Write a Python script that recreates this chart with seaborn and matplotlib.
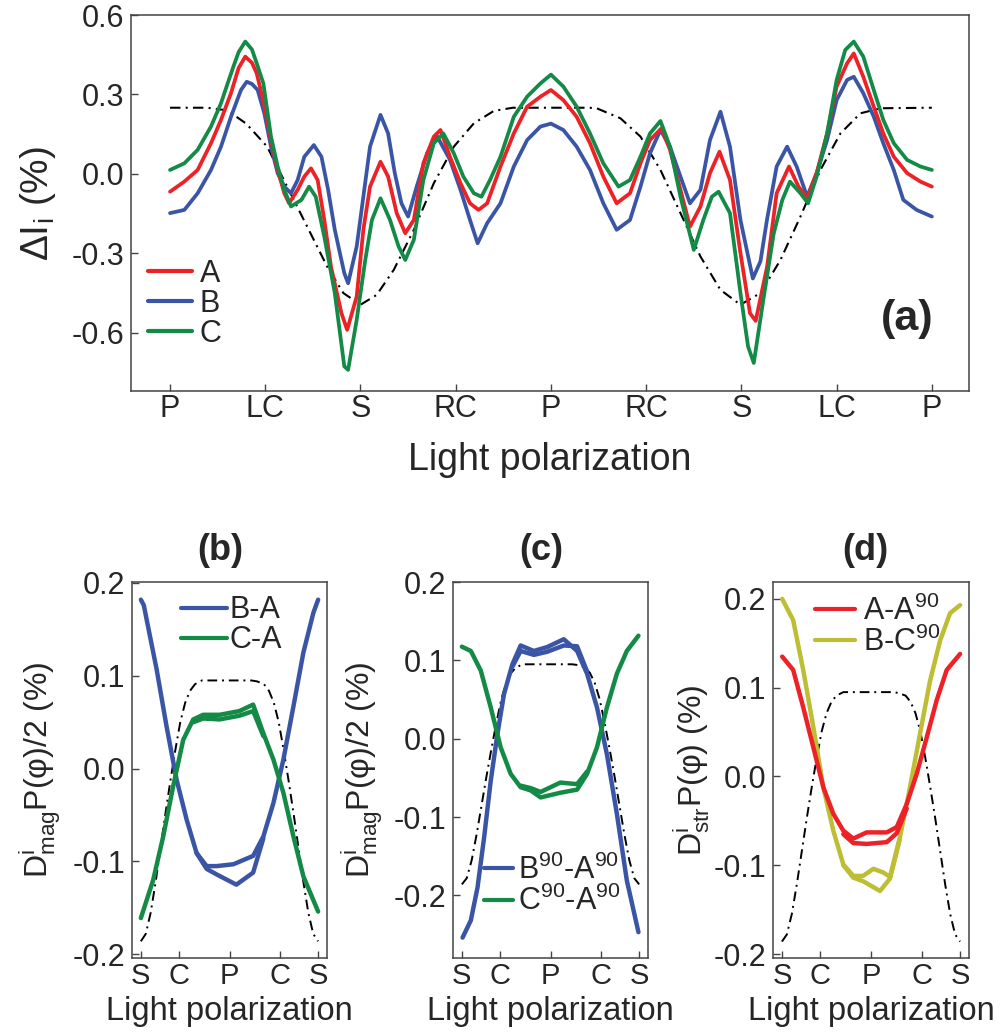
import numpy as np
import pandas as pd
import matplotlib
matplotlib.use("Agg")
import matplotlib.pyplot as plt
from matplotlib.lines import Line2D
import seaborn as sns

# ---------------- data: panel (a) ----------------
a_xticks = [0, 1, 2, 3, 4, 5, 6, 7, 8]
a_xlabels = ["P", "LC", "S", "RC", "P", "RC", "S", "LC", "P"]
a_yticks = [-0.6, -0.3, 0.0, 0.3, 0.6]
a_ylabels = ["-0.6", "-0.3", "0.0", "0.3", "0.6"]

a_B_x = [0, 0.15, 0.29, 0.43, 0.535, 0.64, 0.745, 0.805, 0.86, 0.92, 0.99, 1.06, 1.13, 1.2, 1.27, 1.34, 1.41,
         1.51, 1.59, 1.66, 1.73, 1.83, 1.87, 1.96, 2.03, 2.1, 2.21, 2.29, 2.36, 2.43, 2.5, 2.59, 2.7,
         2.8, 2.94, 3.05, 3.15, 3.23, 3.33, 3.47, 3.61, 3.75, 3.89, 4.0, 4.13, 4.27, 4.41, 4.55, 4.69,
         4.83, 4.94, 5.04, 5.15, 5.25, 5.36, 5.46, 5.57, 5.67, 5.78, 5.88, 5.99, 6.12, 6.2, 6.27, 6.37,
         6.48, 6.58, 6.69, 6.79, 6.9, 7.0, 7.11, 7.18, 7.28, 7.39, 7.49, 7.6, 7.7, 7.84, 8.0]
a_B_y = [-0.148, -0.136, -0.073, 0.015, 0.103, 0.216, 0.317, 0.348, 0.34, 0.317, 0.229, 0.103, 0.003, -0.048,
         -0.073, -0.023, 0.065, 0.109, 0.065, -0.06, -0.211, -0.375, -0.413, -0.274, -0.086, 0.103, 0.223,
         0.153, 0.003, -0.111, -0.161, -0.048, 0.078, 0.145, 0.053, -0.06, -0.174, -0.262, -0.186, -0.111,
         0.028, 0.128, 0.179, 0.19, 0.166, 0.103, 0.015, -0.111, -0.211, -0.174, -0.048, 0.078, 0.166,
         0.103, -0.010, -0.111, -0.06, 0.128, 0.235, 0.103, -0.174, -0.395, -0.33, -0.17, 0.028, 0.103,
         0.028, -0.086, 0.003, 0.128, 0.279, 0.355, 0.367, 0.305, 0.216, 0.116, 0.015, -0.098, -0.136, -0.161]

a_A_x = [0, 0.15, 0.29, 0.43, 0.535, 0.64, 0.72, 0.79, 0.86, 0.91, 0.99, 1.06, 1.13, 1.2, 1.25, 1.34, 1.41, 1.48,
         1.55, 1.62, 1.69, 1.8, 1.86, 1.96, 2.03, 2.1, 2.21, 2.29, 2.38, 2.47, 2.56, 2.66, 2.77, 2.84,
         2.94, 3.05, 3.15, 3.24, 3.33, 3.47, 3.61, 3.75, 3.89, 4.0, 4.13, 4.27, 4.41, 4.55, 4.69, 4.83,
         4.94, 5.04, 5.16, 5.25, 5.36, 5.46, 5.57, 5.67, 5.77, 5.88, 5.99, 6.09, 6.15, 6.27, 6.37, 6.5,
         6.6, 6.69, 6.79, 6.9, 7.0, 7.11, 7.18, 7.28, 7.39, 7.49, 7.6, 7.74, 7.88, 8.0]
a_A_y = [-0.067, -0.029, 0.015, 0.116, 0.204, 0.305, 0.40, 0.443, 0.42, 0.38, 0.26, 0.128, 0.015, -0.073, -0.111,
         -0.06, -0.01, 0.021, -0.023, -0.174, -0.35, -0.526, -0.589, -0.463, -0.211, -0.048, 0.046, -0.01,
         -0.148, -0.224, -0.174, 0.04, 0.141, 0.166, 0.065, -0.035, -0.111, -0.136, -0.111, 0.028, 0.153,
         0.254, 0.292, 0.317, 0.279, 0.216, 0.116, -0.01, -0.111, -0.073, 0.04, 0.128, 0.172, 0.091, -0.06,
         -0.199, -0.123, 0.003, 0.084, -0.023, -0.299, -0.526, -0.555, -0.35, -0.073, 0.028, -0.048,
         -0.092, 0.003, 0.153, 0.33, 0.418, 0.455, 0.367, 0.254, 0.153, 0.065, 0.003, -0.029, -0.048]

a_C_x = [0, 0.15, 0.29, 0.43, 0.535, 0.605, 0.665, 0.72, 0.79, 0.86, 0.91, 0.98, 1.06, 1.13, 1.2, 1.27, 1.38, 1.46,
         1.53, 1.62, 1.73, 1.83, 1.87, 1.96, 2.05, 2.12, 2.21, 2.31, 2.4, 2.47, 2.56, 2.66, 2.77, 2.87,
         2.98, 3.08, 3.19, 3.27, 3.36, 3.47, 3.61, 3.75, 3.89, 4.0, 4.13, 4.27, 4.41, 4.55, 4.71, 4.83,
         4.94, 5.04, 5.15, 5.25, 5.36, 5.5, 5.6, 5.69, 5.76, 5.88, 5.99, 6.07, 6.13, 6.23, 6.34, 6.43,
         6.51, 6.62, 6.7, 6.79, 6.9, 7.0, 7.09, 7.18, 7.28, 7.39, 7.49, 7.6, 7.74, 7.88, 8.0]
a_C_y = [0.015, 0.04, 0.091, 0.179, 0.267, 0.342, 0.405, 0.46, 0.5, 0.47, 0.418, 0.342, 0.141, 0.028, -0.06, -0.123,
         -0.098, -0.048, -0.086, -0.237, -0.45, -0.727, -0.74, -0.551, -0.325, -0.174, -0.092, -0.174,
         -0.274, -0.325, -0.249, -0.023, 0.116, 0.153, 0.078, -0.01, -0.073, -0.086, -0.023, 0.065, 0.216,
         0.292, 0.342, 0.375, 0.33, 0.254, 0.153, 0.04, -0.048, -0.023, 0.065, 0.153, 0.2, 0.103, -0.086,
         -0.287, -0.174, -0.086, -0.067, -0.148, -0.45, -0.652, -0.714, -0.476, -0.224, -0.098, -0.029,
         -0.073, -0.111, -0.01, 0.153, 0.355, 0.468, 0.5, 0.443, 0.317, 0.204, 0.116, 0.053, 0.028, 0.015]

a_T_x = [0, 0.39, 0.6, 0.8, 1.02, 1.23, 1.44, 1.65, 1.82, 2.0, 2.17, 2.35, 2.56, 2.77, 2.98, 3.19, 3.4,
         3.6, 4.4, 4.48, 4.73, 4.94, 5.15, 5.36, 5.57, 5.78, 5.99, 6.2, 6.41, 6.62, 6.83, 7.04, 7.25,
         7.46, 8.0]
a_T_y = [0.25, 0.25, 0.24, 0.19, 0.103, -0.048, -0.199, -0.35, -0.45, -0.494, -0.457, -0.362, -0.211,
         -0.035, 0.103, 0.191, 0.238, 0.25, 0.25, 0.248, 0.21, 0.141, 0.015, -0.148, -0.312, -0.438,
         -0.494, -0.45, -0.325, -0.161, 0.015, 0.153, 0.229, 0.248, 0.25]

# ---------------- data: panels (b)-(d) ----------------
bot_xticks = [-90, -51.5, 0, 51.5, 90]
bot_xlabels = ["S", "C", "P", "C", "S"]
bot_yticks = [-0.2, -0.1, 0.0, 0.1, 0.2]
bot_ylabels = ["-0.2", "-0.1", "0.0", "0.1", "0.2"]

theory_x = [-90, -85, -80, -75, -70, -65, -60, -55, -50, -45, -40, -35, -28, 22, 28, 35, 40, 45, 50,
            55, 60, 65, 70, 75, 80, 85, 90]
theory_y = [-0.186, -0.178, -0.155, -0.122, -0.085, -0.048, -0.013, 0.02, 0.05, 0.071, 0.084, 0.091,
            0.095, 0.095, 0.094, 0.091, 0.084, 0.071, 0.05, 0.02, -0.013, -0.048, -0.085, -0.122, -0.155,
            -0.178, -0.186]

b_BA_x = [-90, -87, -84.2, -74, -64, -53.7, -43.5, -33.4, -23.2, -13, 4, 24, 34.4, 44.6, 54.7, 64.9, 75, 85.2, 90]
b_BA_y = [0.182, 0.176, 0.161, 0.107, 0.046, -0.012, -0.055, -0.091, -0.105, -0.105, -0.103, -0.094, -0.073,
          -0.037, 0.0097, 0.067, 0.125, 0.168, 0.182]
b_BA2_x = [-33.4, -23.2, -13, 7, 24, 34.4]
b_BA2_y = [-0.091, -0.108, -0.114, -0.125, -0.112, -0.075]
b_CA_x = [-90, -77.5, -67.3, -57.2, -47, -36.8, -26.7, -10, 10, 24, 34.4, 44.6, 54.7, 64.9, 75, 90]
b_CA_y = [-0.161, -0.12, -0.073, -0.019, 0.031, 0.053, 0.058, 0.058, 0.062, 0.069, 0.038, 0.0097,
          -0.026, -0.073, -0.116, -0.154]
b_CA2_x = [-36.8, -26.7, -10, 10, 24, 34.4]
b_CA2_y = [0.05, 0.054, 0.053, 0.057, 0.062, 0.035]

c_BA_x = [-89.3, -80.9, -74.1, -67.4, -60.7, -53.9, -47.2, -38.7, -30.3, -16.9, -3.4, 13.5, 27, 37.1,
          47.2, 57.3, 67.4, 77.5, 89.3]
c_BA_y = [-0.254, -0.232, -0.19, -0.126, -0.054, 0.006, 0.057, 0.095, 0.119, 0.112, 0.117, 0.127, 0.112,
          0.083, 0.04, -0.02, -0.096, -0.181, -0.247]
c_BA2_x = [-38.7, -30.3, -16.9, -3.4, 13.5, 27, 37.1]
c_BA2_y = [0.092, 0.112, 0.107, 0.111, 0.119, 0.118, 0.086]
c_CA_x = [-90, -80.9, -70.8, -60.7, -50.6, -40.4, -30.3, -20.2, -10, 10, 27, 37.1, 47.2, 57.3, 67.4,
          77.5, 89.3]
c_CA_y = [0.1175, 0.112, 0.087, 0.04, -0.011, -0.045, -0.062, -0.066, -0.075, -0.069, -0.065, -0.045,
          -0.011, 0.04, 0.083, 0.112, 0.1315]
c_CA2_x = [-30.3, -20.2, -10, 10, 27, 37.1]
c_CA2_y = [-0.06, -0.063, -0.068, -0.056, -0.058, -0.042]

d_AA_x = [-89.7, -78.6, -68.5, -58.3, -48.2, -38.1, -28, -17.9, -4.4, 15.9, 26, 36.1, 46.2, 56.3, 66.4,
          76.5, 90]
d_AA_y = [0.135, 0.12, 0.078, 0.033, -0.012, -0.042, -0.061, -0.07, -0.063, -0.063, -0.057, -0.031,
          0.003, 0.044, 0.086, 0.12, 0.138]
d_AA2_x = [-28, -17.9, -4.4, 15.9, 26, 36.1]
d_AA2_y = [-0.065, -0.075, -0.076, -0.074, -0.064, -0.036]
d_BC_x = [-89.7, -78.6, -68.5, -58.3, -48.2, -38.1, -28, -17.9, -8, 2.4, 12, 19.2, 29.3, 39.4, 49.5,
          59.7, 69.8, 79.9, 90]
d_BC_y = [0.2, 0.176, 0.12, 0.056, -0.012, -0.061, -0.099, -0.112, -0.112, -0.104, -0.108, -0.113,
          -0.068, -0.012, 0.048, 0.108, 0.153, 0.184, 0.193]
d_BC2_x = [-28, -17.9, -8, 9.1, 19.2, 29.3]
d_BC2_y = [-0.1, -0.114, -0.118, -0.129, -0.115, -0.07]

# ---------------- style ----------------
sns.set_theme(style="ticks")
plt.rcParams["font.family"] = ["Liberation Sans", "DejaVu Sans"]
plt.rcParams["mathtext.fontset"] = "custom"
plt.rcParams["mathtext.rm"] = "Liberation Sans"
plt.rcParams["mathtext.it"] = "Liberation Sans:italic"
plt.rcParams["mathtext.bf"] = "Liberation Sans:bold"
plt.rcParams["axes.unicode_minus"] = False
plt.rcParams["lines.solid_joinstyle"] = "round"
plt.rcParams["lines.solid_capstyle"] = "round"

RED = "#EC2227"
BLUE = "#3A55A5"
GREEN = "#138A45"
OLIVE = "#BDBE33"
DASHDOT = (0, (5, 2.5, 1, 2.5))
SPINE = "#444444"

fig = plt.figure(figsize=(10, 10.32), dpi=100)


def style_axes(ax, fs_x, fs_y):
    for s in ax.spines.values():
        s.set_color(SPINE)
        s.set_linewidth(1.1)
        s.set_visible(True)
    ax.tick_params(axis="both", direction="in", length=5, width=1, color=SPINE,
                   top=False, right=False)
    ax.tick_params(axis="y", pad=5, labelsize=fs_y)
    ax.tick_params(axis="x", pad=3, labelsize=fs_x)


def line(ax, x, y, color, lw, ls="-"):
    sns.lineplot(x=x, y=y, ax=ax, color=color, linewidth=lw, linestyle=ls,
                 sort=False, estimator=None, legend=False)


# ---------------- panel (a) ----------------
axA = fig.add_axes([0.131, 0.6211, 0.838, 0.3643])
line(axA, a_T_x, a_T_y, "black", 1.5, DASHDOT)
line(axA, a_B_x, a_B_y, BLUE, 2.7)
line(axA, a_A_x, a_A_y, RED, 2.7)
line(axA, a_C_x, a_C_y, GREEN, 2.7)
axA.set_xlim(-0.41, 8.39)
axA.set_ylim(-0.82, 0.6)
axA.set_xticks(a_xticks)
axA.set_xticklabels(a_xlabels)
axA.set_yticks(a_yticks)
axA.set_yticklabels(a_ylabels)
style_axes(axA, 22, 22)
axA.tick_params(axis="x", pad=2)
axA.set_xlabel("Light polarization", fontsize=27)
axA.set_ylabel("ΔI$_{\\mathrm{i}}$ (%)", fontsize=28)
axA.yaxis.set_label_coords(-0.087, 0.5)
axA.xaxis.set_label_coords(0.5, -0.135)
hA = [Line2D([], [], color=RED, lw=3), Line2D([], [], color=BLUE, lw=3), Line2D([], [], color=GREEN, lw=3)]
axA.legend(hA, ["A", "B", "C"], loc="upper left", bbox_to_anchor=(0.02, 0.352), frameon=False,
           fontsize=22, handlelength=1.45, handletextpad=0.25, labelspacing=0.0, borderpad=0,
           borderaxespad=0)
fig.text(0.907, 1 - 319 / 1032, "(a)", fontsize=31, fontweight="bold", ha="center", va="center")

# ---------------- bottom panels ----------------
bot_specs = [
    (0.132, 0.195, (-0.204, 0.201), -0.355, "(b)", 0.220),
    (0.453, 0.195, (-0.28, 0.20), -0.35, "(c)", 0.541),
    (0.773, 0.196, (-0.2045, 0.219), -0.31, "(d)", 0.865),
]
axes_bot = []
for left, width, ylim, ylab_x, title, tx in bot_specs:
    ax = fig.add_axes([left, 0.0717, width, 0.3643])
    ax.set_xlim(-99, 99)
    ax.set_ylim(*ylim)
    ax.set_xticks(bot_xticks)
    ax.set_xticklabels(bot_xlabels)
    ax.set_yticks(bot_yticks)
    ax.set_yticklabels(bot_ylabels)
    style_axes(ax, 21, 22)
    ax.set_xlabel("Light polarization", fontsize=23.5)
    ax.xaxis.set_label_coords(0.5, -0.1)
    ax.yaxis.set_label_coords(ylab_x, 0.5)
    fig.text(tx, 1 - 550 / 1032, title, fontsize=26, fontweight="bold", ha="center", va="center")
    axes_bot.append(ax)

axB, axC, axD = axes_bot
LW = 3.2

line(axB, theory_x, theory_y, "black", 1.4, DASHDOT)
line(axB, b_BA_x, b_BA_y, BLUE, LW)
line(axB, b_BA2_x, b_BA2_y, BLUE, LW)
line(axB, b_CA_x, b_CA_y, GREEN, LW)
line(axB, b_CA2_x, b_CA2_y, GREEN, LW)
axB.set_ylabel("D$^{\\mathrm{i}}_{\\mathrm{mag}}$P(φ)/2 (%)", fontsize=23)
axB.legend([Line2D([], [], color=BLUE, lw=3), Line2D([], [], color=GREEN, lw=3)], ["B-A", "C-A"],
           loc="upper left", bbox_to_anchor=(0.25, 0.965), frameon=False, fontsize=22,
           handlelength=1.5, handletextpad=0.1, labelspacing=0.0, borderpad=0, borderaxespad=0)

line(axC, theory_x, theory_y, "black", 1.4, DASHDOT)
line(axC, c_BA_x, c_BA_y, BLUE, LW)
line(axC, c_BA2_x, c_BA2_y, BLUE, LW)
line(axC, c_CA_x, c_CA_y, GREEN, LW)
line(axC, c_CA2_x, c_CA2_y, GREEN, LW)
axC.set_ylabel("D$^{\\mathrm{i}}_{\\mathrm{mag}}$P(φ)/2 (%)", fontsize=23)
axC.legend([Line2D([], [], color=BLUE, lw=3), Line2D([], [], color=GREEN, lw=3)],
           ["B$^{90}$-A$^{90}$", "C$^{90}$-A$^{90}$"],
           loc="upper left", bbox_to_anchor=(0.16, 0.275), frameon=False, fontsize=22,
           handlelength=0.95, handletextpad=0.15, labelspacing=0.0, borderpad=0, borderaxespad=0)

line(axD, theory_x, theory_y, "black", 1.4, DASHDOT)
line(axD, d_BC_x, d_BC_y, OLIVE, LW)
line(axD, d_BC2_x, d_BC2_y, OLIVE, LW)
line(axD, d_AA_x, d_AA_y, RED, LW)
line(axD, d_AA2_x, d_AA2_y, RED, LW)
axD.set_ylabel("D$^{\\mathrm{i}}_{\\mathrm{str}}$P(φ) (%)", fontsize=23)
axD.legend([Line2D([], [], color=RED, lw=3), Line2D([], [], color=OLIVE, lw=3)],
           ["A-A$^{90}$", "B-C$^{90}$"],
           loc="upper left", bbox_to_anchor=(0.215, 0.965), frameon=False, fontsize=22,
           handlelength=1.3, handletextpad=0.25, labelspacing=0.0, borderpad=0, borderaxespad=0)

fig.savefig("out.png", dpi=100)
